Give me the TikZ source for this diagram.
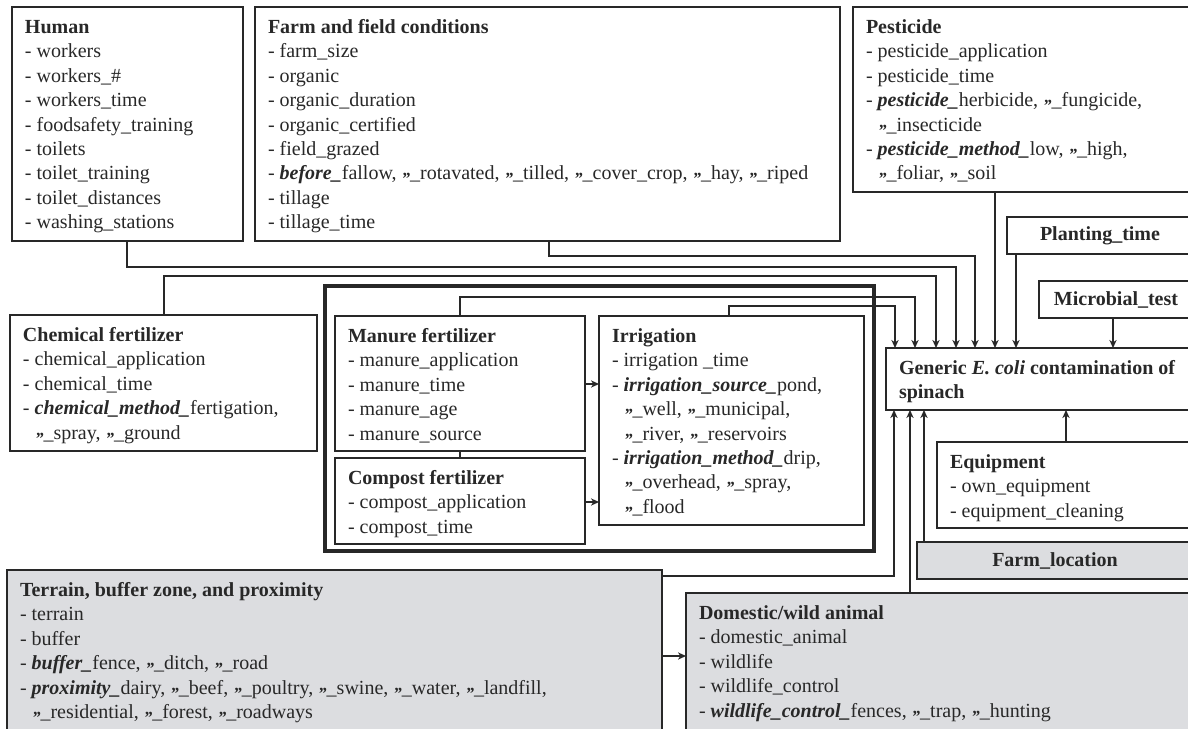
\documentclass[tikz,border=0pt]{standalone}
\usepackage{fontspec}
\setmainfont{Liberation Serif}
\usetikzlibrary{arrows.meta,calc}
\definecolor{boxgray}{RGB}{220,221,224}
\definecolor{ink}{RGB}{40,40,40}
\newcommand{\bxt}[3]{\begin{minipage}[t][#2][t]{#1}\raggedright\rule{0pt}{13.25pt}#3\end{minipage}}
\newcommand{\dt}{\raisebox{-0.55ex}{\fontsize{8.5pt}{8.5pt}\selectfont\bfseries\itshape ”}}
\newcommand{\bi}[1]{\textbf{\textit{#1}}}
\newcommand{\ind}{\hspace*{6pt}}
\begin{document}
\begin{tikzpicture}[x=0.5pt,y=-0.5pt,
  font=\fontsize{10pt}{12.2pt}\selectfont,
  box/.style={draw=ink, line width=0.7pt, fill=white, inner xsep=6.5pt, inner ysep=0pt, outer sep=0pt, anchor=north west, text=ink},
  gbox/.style={box, fill=boxgray},
  sbox/.style={draw=ink, line width=0.7pt, fill=white, anchor=north west, inner sep=0pt, outer sep=0pt, text=ink, font=\fontsize{10pt}{12.2pt}\selectfont\bfseries},
  grpbox/.style={draw=ink, line width=1.7pt, anchor=north west, inner sep=0pt, outer sep=0pt},
  conn/.style={draw=ink, line width=0.7pt},
  arr/.style={conn, -{Stealth[length=4pt,width=3.6pt,inset=1.2pt]}}]
\useasboundingbox (0,0) rectangle (1188,728);
\clip (0,0) rectangle (1188,728);

% top row
\node[box] (hum) at (12,7) {\bxt{102.5pt}{117pt}{\textbf{Human}\\- workers\\- workers\_\#\\- workers\_time\\- foodsafety\_training\\- toilets\\- toilet\_training\\- toilet\_distances\\- washing\_stations}};
\node[box] (farm) at (255,7) {\bxt{279.5pt}{117pt}{\textbf{Farm and field conditions}\\- farm\_size\\- organic\\- organic\_duration\\- organic\_certified\\- field\_grazed\\- \bi{before\_}fallow, \dt\_rotavated, \dt\_tilled, \dt\_cover\_crop, \dt\_hay, \dt\_riped\\- tillage\\- tillage\_time}};
\node[box] (pest) at (853,7) {\bxt{157pt}{92.5pt}{\textbf{Pesticide}\\- pesticide\_application\\- pesticide\_time\\- \bi{pesticide\_}herbicide, \dt\_fungicide,\\\ind\dt\_insecticide\\- \bi{pesticide\_method\_}low, \dt\_high,\\\ind\dt\_foliar, \dt\_soil}};

\node[sbox, minimum width=93pt, minimum height=18.5pt] (plant) at (1007,217) {Planting\_time};
\node[sbox, minimum width=77pt, minimum height=18.5pt] (micro) at (1039,281) {Microbial\_test};

% middle
\node[box] (chem) at (10,315) {\bxt{140.5pt}{68pt}{\textbf{Chemical fertilizer}\\- chemical\_application\\- chemical\_time\\- \bi{chemical\_method\_}fertigation,\\\ind\dt\_spray, \dt\_ground}};

\node[grpbox, minimum width=274.5pt, minimum height=132.5pt] (grp) at (325,286) {};
\node[box] (man) at (335,316) {\bxt{112pt}{67.5pt}{\textbf{Manure fertilizer}\\- manure\_application\\- manure\_time\\- manure\_age\\- manure\_source}};
\node[box] (comp) at (335,458) {\bxt{112pt}{43pt}{\textbf{Compost fertilizer}\\- compost\_application\\- compost\_time}};
\node[box] (irr) at (599,316) {\bxt{119.5pt}{104.5pt}{\textbf{Irrigation}\\- irrigation \_time\\- \bi{irrigation\_source\_}pond,\\\ind\dt\_well, \dt\_municipal,\\\ind\dt\_river, \dt\_reservoirs\\- \bi{irrigation\_method\_}drip,\\\ind\dt\_overhead, \dt\_spray,\\\ind\dt\_flood}};

\node[box] (gen) at (886,348) {\bxt{140.5pt}{31pt}{\textbf{Generic \textit{E. coli} contamination of}\\\textbf{spinach}}};
\node[box] (equip) at (937,442) {\bxt{115pt}{43pt}{\textbf{Equipment}\\- own\_equipment\\- equipment\_cleaning}};
\node[sbox, fill=boxgray, minimum width=138pt, minimum height=18.5pt] (loc) at (917,542) {Farm\_location};

% bottom
\node[gbox] (terr) at (7,570) {\bxt{314.5pt}{82.5pt}{\textbf{Terrain, buffer zone, and proximity}\\- terrain\\- buffer\\- \bi{buffer\_}fence, \dt\_ditch, \dt\_road\\- \bi{proximity\_}dairy, \dt\_beef, \dt\_poultry, \dt\_swine, \dt\_water, \dt\_landfill,\\\ind\dt\_residential, \dt\_forest, \dt\_roadways}};
\node[gbox] (dom) at (686,593) {\bxt{240.5pt}{71pt}{\textbf{Domestic/wild animal}\\- domestic\_animal\\- wildlife\\- wildlife\_control\\- \bi{wildlife\_control\_}fences, \dt\_trap, \dt\_hunting}};

% connectors into the outcome (top)
\draw[arr] ($(hum.south west)+(115,0)$) -- ++(0,26) -| ($(gen.north west)+(70,0)$);
\draw[arr] ($(farm.south west)+(294,0)$) -- ++(0,15) -| ($(gen.north west)+(89,0)$);
\draw[arr] ($(pest.south west)+(142,0)$) -- ($(gen.north west)+(109,0)$);
\draw[arr] ($(plant.south west)+(9,0)$) -- ($(gen.north west)+(130,0)$);
\draw[arr] ($(micro.south west)+(74,0)$) -- ($(gen.north west)+(227,0)$);
\draw[arr] ($(chem.north west)+(154,0)$) -- ++(0,-39) -| ($(gen.north west)+(50,0)$);
\draw[arr] ($(man.north west)+(125,0)$) -- ++(0,-19) -| ($(gen.north west)+(29,0)$);
\draw[arr] ($(irr.north west)+(130,0)$) -- ++(0,-10) -| ($(gen.north west)+(9,0)$);

% inside the group
\draw[arr] ($(man.north east)+(0,68)$) -- ($(irr.north west)+(0,68)$);
\draw[arr] ($(comp.north east)+(0,44)$) -- ($(irr.north west)+(0,186)$);
\draw[conn] ($(man.south west)+(125,0)$) -- ($(comp.north west)+(125,0)$);

% connectors into the outcome (bottom)
\draw[arr] ($(equip.north west)+(129,0)$) -- ($(gen.south west)+(180,0)$);
\draw[arr] ($(loc.north west)+(7,0)$) -- ($(gen.south west)+(38,0)$);
\draw[arr] ($(dom.north west)+(224,0)$) -- ($(gen.south west)+(24,0)$);
\draw[arr] ($(terr.north east)+(0,6)$) -| ($(gen.south west)+(8,0)$);
\draw[arr] ($(terr.north east)+(0,86)$) -- ($(dom.north west)+(0,63)$);
\end{tikzpicture}
\end{document}
